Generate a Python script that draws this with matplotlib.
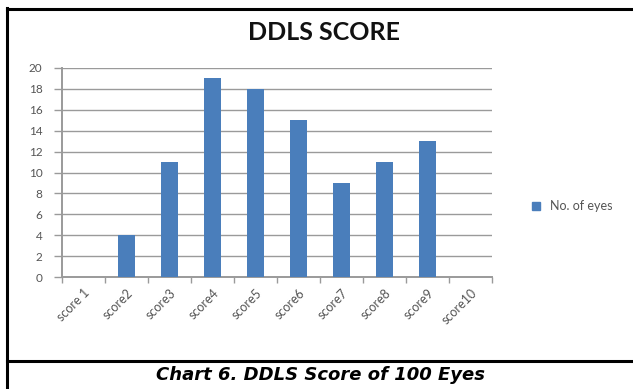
import matplotlib
matplotlib.use("Agg")
import matplotlib.pyplot as plt
from matplotlib.lines import Line2D
import numpy as np

categories = ["score 1", "score2", "score3", "score4", "score5",
              "score6", "score7", "score8", "score9", "score10"]
eyes = [0, 4, 11, 19, 18, 15, 9, 11, 13, 0]
y_ticks = list(range(0, 21, 2))
series_name = "No. of eyes"
chart_title = "DDLS SCORE"
caption = "Chart 6. DDLS Score of 100 Eyes"

W, H = 633, 389
fig = plt.figure(figsize=(W / 100, H / 100), dpi=100)
fig.patch.set_facecolor("white")

ax = fig.add_axes([62 / W, 1 - 277 / H, (492 - 62) / W, (277 - 68) / H])
x = np.arange(len(categories))
ax.bar(x, eyes, width=0.4, color="#4a7ebb", zorder=3)

ax.set_xlim(-0.5, len(categories) - 0.5)
ax.set_ylim(0, 20)
ax.set_yticks(y_ticks)
ax.set_yticklabels([str(v) for v in y_ticks], fontsize=8.5, color="#555555",
                   family="Lato")
ax.yaxis.grid(True, color="#9a9a9a", linewidth=1.0, zorder=0)
ax.set_axisbelow(True)

ax.set_xticks(x)
ax.set_xticklabels(categories, rotation=45, ha="right", va="top",
                   rotation_mode="anchor", fontsize=9, color="#555555",
                   family="Lato")
ax.tick_params(axis="x", length=0, pad=7)
ax.set_xticks(np.arange(-0.5, len(categories), 1.0), minor=True)
ax.tick_params(axis="x", which="minor", length=4, color="#9a9a9a", width=1)
ax.tick_params(axis="y", length=6, color="#9a9a9a", width=1, pad=8)

for side in ("top", "right"):
    ax.spines[side].set_visible(False)
for side in ("left", "bottom"):
    ax.spines[side].set_color("#9a9a9a")
    ax.spines[side].set_linewidth(1.4)

fig.text(324 / W, 1 - 32 / H, chart_title, ha="center", va="center",
         fontsize=18, fontweight="bold", family="Lato", color="#111111")

handle = Line2D([], [], marker="s", linestyle="none", markersize=6,
                markerfacecolor="#4a7ebb", markeredgecolor="#4a7ebb")
fig.legend([handle], [series_name], loc="center left",
           bbox_to_anchor=(512 / W, 1 - 206 / H), frameon=False,
           prop={"family": "Lato", "size": 9}, handletextpad=0.1,
           labelcolor="#555555")

# frame lines around the chart and caption panel
fig.add_artist(Line2D([7 / W, 7 / W], [0, 1 - 8 / H], color="black",
                      linewidth=2.2, transform=fig.transFigure))
fig.add_artist(Line2D([7 / W, 1], [1 - 9 / H, 1 - 9 / H], color="black",
                      linewidth=2.2, transform=fig.transFigure))
fig.add_artist(Line2D([7 / W, 1], [1 - 361 / H, 1 - 361 / H], color="black",
                      linewidth=2.2, transform=fig.transFigure))

fig.text(321 / W, 1 - 375 / H, caption, ha="center", va="center",
         fontsize=13, fontweight="bold", style="italic",
         family="DejaVu Sans", color="black")

fig.savefig("out.png", dpi=100, facecolor="white")
